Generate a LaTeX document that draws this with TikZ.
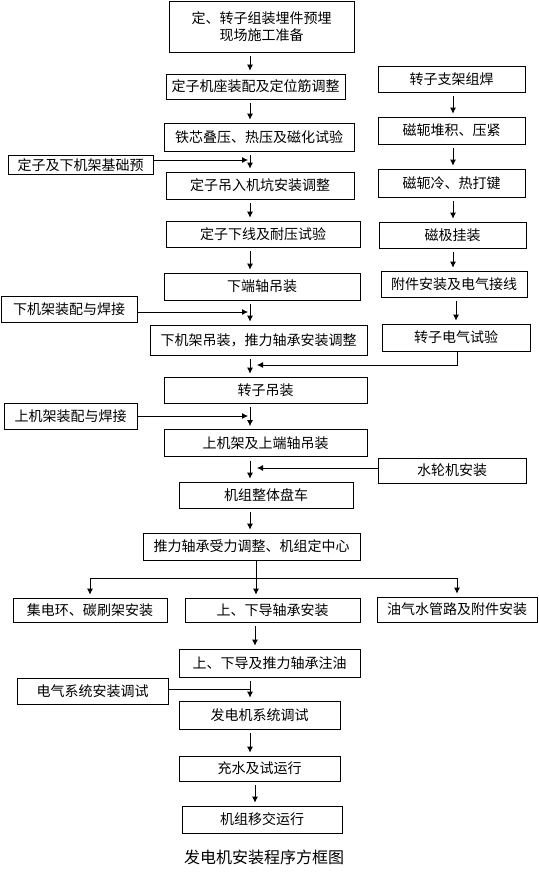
\documentclass[tikz,border=0pt]{standalone}
\usepackage{fontspec}
\usepackage{tikz}
\usetikzlibrary{arrows.meta}
\newfontfamily\cjk{Noto Sans CJK SC}

\tikzset{
  box/.style={draw, line width=0.8pt, inner sep=0pt, align=center,
    font=\cjk\fontsize{14}{17}\selectfont},
  ln/.style={line width=0.8pt},
  arr/.style={line width=0.8pt, -{Latex[length=6pt,width=6pt]}},
  gap/.style={shorten <=4pt, shorten >=3pt},
}

\begin{document}
\begin{tikzpicture}[x=1pt, y=-1pt]
  % Page frame
  \useasboundingbox (0,0) rectangle (538,875);

  % Arrow columns
  \coordinate (mc) at (250,0);
  \coordinate (mc2) at (255,0);
  \coordinate (rc) at (453,0);
  \coordinate (rc2) at (456,0);

  % Stator line
  \node[box, minimum width=185, minimum height=51] (prep) at (261.5,26.5) {定、转子组装埋件预埋\\现场施工准备};
  \node[box, minimum width=179, minimum height=25] (seat) at (255.5,86.5) {定子机座装配及定位筋调整};
  \node[box, minimum width=190, minimum height=28] (core) at (259,137) {铁芯叠压、热压及磁化试验};
  \node[box, minimum width=188, minimum height=27] (lift) at (260,185.5) {定子吊入机坑安装调整};
  \node[box, minimum width=194, minimum height=26] (wind) at (263,234) {定子下线及耐压试验};
  \node[box, minimum width=196, minimum height=27] (shaft) at (262,286.5) {下端轴吊装};
  \node[box, minimum width=217, minimum height=30] (lframe) at (258.5,340) {下机架吊装，推力轴承安装调整};
  \node[box, minimum width=203, minimum height=26] (rlift) at (265.5,390) {转子吊装};
  \node[box, minimum width=203, minimum height=27] (uframe) at (265.5,443) {上机架及上端轴吊装};
  \node[box, minimum width=174, minimum height=26] (spin) at (266,495) {机组整体盘车};
  \node[box, minimum width=217, minimum height=27] (thrust) at (251.5,546.5) {推力轴承受力调整、机组定中心};

  % Side inputs
  \node[box, minimum width=145, minimum height=19] (found) at (80.5,165) {定子及下机架基础预};
  \node[box, minimum width=136, minimum height=26] (lweld) at (69,309) {下机架装配与焊接};
  \node[box, minimum width=133, minimum height=26] (uweld) at (70.5,416) {上机架装配与焊接};
  \node[box, minimum width=148, minimum height=25] (turb) at (452,470.5) {水轮机安装};
  \node[box, minimum width=151, minimum height=26] (elec) at (92.5,691) {电气系统安装调试};

  % Rotor line
  \node[box, minimum width=147, minimum height=26] (rframe) at (451.5,79) {转子支架组焊};
  \node[box, minimum width=147, minimum height=27] (yoke) at (451.5,130.5) {磁轭堆积、压紧};
  \node[box, minimum width=147, minimum height=28] (rkey) at (451.5,183) {磁轭冷、热打键};
  \node[box, minimum width=147, minimum height=26] (pole) at (452.5,235) {磁极挂装};
  \node[box, minimum width=146, minimum height=26] (acc) at (454,284) {附件安装及电气接线};
  \node[box, minimum width=148, minimum height=27] (rtest) at (456,337.5) {转子电气试验};

  % Branches
  \node[box, minimum width=154, minimum height=24] (ring) at (90,610) {集电环、碳刷架安装};
  \node[box, minimum width=175, minimum height=24] (guide) at (272.5,610) {上、下导轴承安装};
  \node[box, minimum width=160, minimum height=25] (pipe) at (457,609.5) {油气水管路及附件安装};

  % Final steps
  \node[box, minimum width=181, minimum height=28] (oil) at (269.5,663) {上、下导及推力轴承注油};
  \node[box, minimum width=161, minimum height=28] (gsys) at (259.5,715) {发电机系统调试};
  \node[box, minimum width=161, minimum height=25] (water) at (259.5,768.5) {充水及试运行};
  \node[box, minimum width=160, minimum height=27] (handover) at (262,819.5) {机组移交运行};

  % Caption
  \node[font=\cjk\fontsize{16}{19}\selectfont] (title) at (264,857) {发电机安装程序方框图};

  % Junctions
  \coordinate (j1) at (250,160);
  \coordinate (j2) at (250,312);
  \coordinate (j3) at (457,365);
  \coordinate (j4) at (250,416);
  \coordinate (j5) at (250,468);
  \coordinate (sp) at (256,578);
  \coordinate (j6) at (250,689);

  % Main arrows
  \draw[arr, gap] (prep.south -| mc) -- (seat.north -| mc);
  \draw[arr, gap] (seat.south -| mc) -- (core.north -| mc);
  \draw[arr, gap] (core.south -| mc) -- (lift.north -| mc);
  \draw[arr, gap] (lift.south -| mc) -- (wind.north -| mc);
  \draw[arr, gap] (wind.south -| mc) -- (shaft.north -| mc);
  \draw[arr, gap] (shaft.south -| mc) -- (lframe.north -| mc);
  \draw[arr, gap] (lframe.south -| mc) -- (rlift.north -| mc);
  \draw[arr, gap] (rlift.south -| mc) -- (uframe.north -| mc);
  \draw[arr, gap] (uframe.south -| mc) -- (spin.north -| mc);
  \draw[arr, gap] (spin.south -| mc) -- (thrust.north -| mc);

  % Side arrows
  \draw[arr, shorten >=2pt] (found.east |- j1) -- (j1);
  \draw[arr, shorten >=2pt] (lweld.east |- j2) -- (j2);
  \draw[arr, shorten >=2pt] (uweld.east |- j4) -- (j4);
  \draw[arr, shorten >=7pt] (turb.west |- j5) -- (j5);
  \draw[arr, shorten >=7pt] (rtest.south -| j3) -- (j3) -- (j3 -| mc);

  % Rotor arrows
  \draw[arr, gap] (rframe.south -| rc) -- (yoke.north -| rc);
  \draw[arr, gap] (yoke.south -| rc) -- (rkey.north -| rc);
  \draw[arr, gap] (rkey.south -| rc) -- (pole.north -| rc);
  \draw[arr, gap] (pole.south -| rc) -- (acc.north -| rc);
  \draw[arr, gap] (acc.south -| rc2) -- (rtest.north -| rc2);

  % Split into three
  \draw[ln] (thrust.south -| sp) -- (sp);
  \draw[ln] (sp -| ring.north) -- (sp -| pipe.north);
  \draw[arr, shorten >=3pt] (sp -| ring.north) -- (ring.north);
  \draw[arr, shorten >=3pt] (sp) -- (guide.north -| sp);
  \draw[arr, shorten >=3pt] (sp -| pipe.north) -- (pipe.north);

  % Last arrows
  \draw[arr, gap] (guide.south -| mc2) -- (oil.north -| mc2);
  \draw[arr, gap] (oil.south -| mc) -- (gsys.north -| mc);
  \draw[ln] (elec.east |- j6) -- (j6);
  \draw[arr, gap] (gsys.south -| mc) -- (water.north -| mc);
  \draw[arr, gap] (water.south -| mc2) -- (handover.north -| mc2);

\end{tikzpicture}
\end{document}
